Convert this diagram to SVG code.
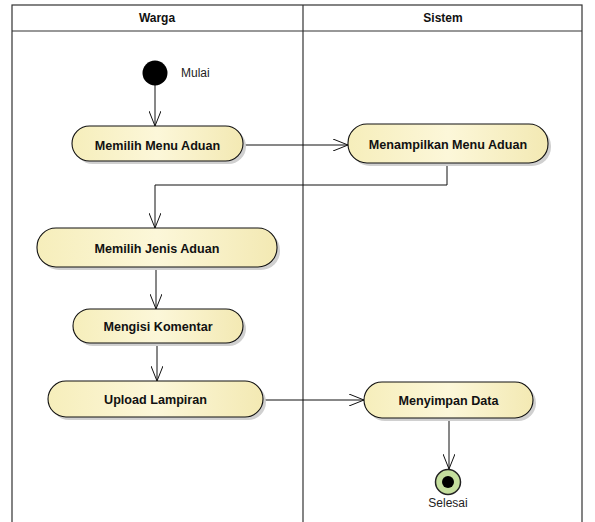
<svg xmlns="http://www.w3.org/2000/svg" width="595" height="522" viewBox="0 0 595 522">
<style>
.lane{fill:none;stroke:#333;stroke-width:1.2}
.act{fill:url(#g);stroke:#111;stroke-width:1.1}
.sh{fill:#d0d0d0}
.t{font-family:"Liberation Sans",Arial,sans-serif;font-size:12.6px;font-weight:bold;fill:#111;text-anchor:middle}
.h{font-family:"Liberation Sans",Arial,sans-serif;font-size:12px;font-weight:bold;fill:#111;text-anchor:middle}
.l{font-family:"Liberation Sans",Arial,sans-serif;font-size:12px;fill:#222}
.c{fill:none;stroke:#111;stroke-width:1;marker-end:url(#a)}
</style>
<defs>
<linearGradient id="g" x1="0" y1="0" x2="1" y2="0">
<stop offset="0" stop-color="#f6eebb"/>
<stop offset="0.5" stop-color="#fcf7d9"/>
<stop offset="1" stop-color="#f3e9b3"/>
</linearGradient>
<marker id="a" markerWidth="16" markerHeight="12" refX="15" refY="6" orient="auto" markerUnits="userSpaceOnUse">
<path d="M0,0 L15,6 L0,12" fill="none" stroke="#111" stroke-width="1"/>
</marker>
</defs>
<rect width="595" height="522" fill="#fff"/>
<g id="lanes">
<rect class="lane" x="12" y="5" width="570" height="530"/>
<line class="lane" x1="12" y1="31" x2="582" y2="31"/>
<line class="lane" x1="303" y1="5" x2="303" y2="522"/>
<text class="h" x="157" y="22">Warga</text>
<text class="h" x="443" y="22">Sistem</text>
</g>
<g id="connectors">
<line class="c" x1="155" y1="85" x2="155" y2="126"/>
<line class="c" x1="243" y1="145" x2="348" y2="145"/>
<polyline class="c" points="447,164 447,185 155,185 155,228"/>
<line class="c" x1="156" y1="267" x2="156" y2="309"/>
<line class="c" x1="157" y1="343" x2="157" y2="381"/>
<line class="c" x1="263" y1="400" x2="364" y2="400"/>
<line class="c" x1="449" y1="418" x2="449" y2="469"/>
</g>
<g id="start">
<circle cx="155" cy="73" r="12.5" fill="#000"/>
<text class="l" x="181" y="77">Mulai</text>
</g>
<g id="memilihMenu">
<rect class="sh" x="75" y="129" width="171" height="35" rx="17.5"/>
<rect class="act" x="72" y="126" width="171" height="35" rx="17.5"/>
<text class="t" x="157.5" y="149.5">Memilih Menu Aduan</text>
</g>
<g id="menampilkan">
<rect class="sh" x="351" y="127" width="200" height="39" rx="19"/>
<rect class="act" x="348" y="124" width="200" height="39" rx="19"/>
<text class="t" x="448" y="148.5">Menampilkan Menu Aduan</text>
</g>
<g id="memilihJenis">
<rect class="sh" x="40" y="231" width="240" height="39" rx="19"/>
<rect class="act" x="37" y="228" width="240" height="39" rx="19"/>
<text class="t" x="157" y="252.5">Memilih Jenis Aduan</text>
</g>
<g id="mengisi">
<rect class="sh" x="76" y="312" width="170" height="34" rx="17"/>
<rect class="act" x="73" y="309" width="170" height="34" rx="17"/>
<text class="t" x="158" y="330.5">Mengisi Komentar</text>
</g>
<g id="upload">
<rect class="sh" x="51" y="384" width="215" height="36" rx="18"/>
<rect class="act" x="48" y="381" width="215" height="36" rx="18"/>
<text class="t" x="155.5" y="403.5">Upload Lampiran</text>
</g>
<g id="menyimpan">
<rect class="sh" x="367" y="385" width="169" height="36" rx="18"/>
<rect class="act" x="364" y="382" width="169" height="36" rx="18"/>
<text class="t" x="448.5" y="404.5">Menyimpan Data</text>
</g>
<g id="end">
<circle cx="448" cy="482" r="12.5" fill="#c5df9e" stroke="#222" stroke-width="1.5"/>
<circle cx="448" cy="482" r="6" fill="#000"/>
<text class="l" x="448" y="507" text-anchor="middle">Selesai</text>
</g>
</svg>
